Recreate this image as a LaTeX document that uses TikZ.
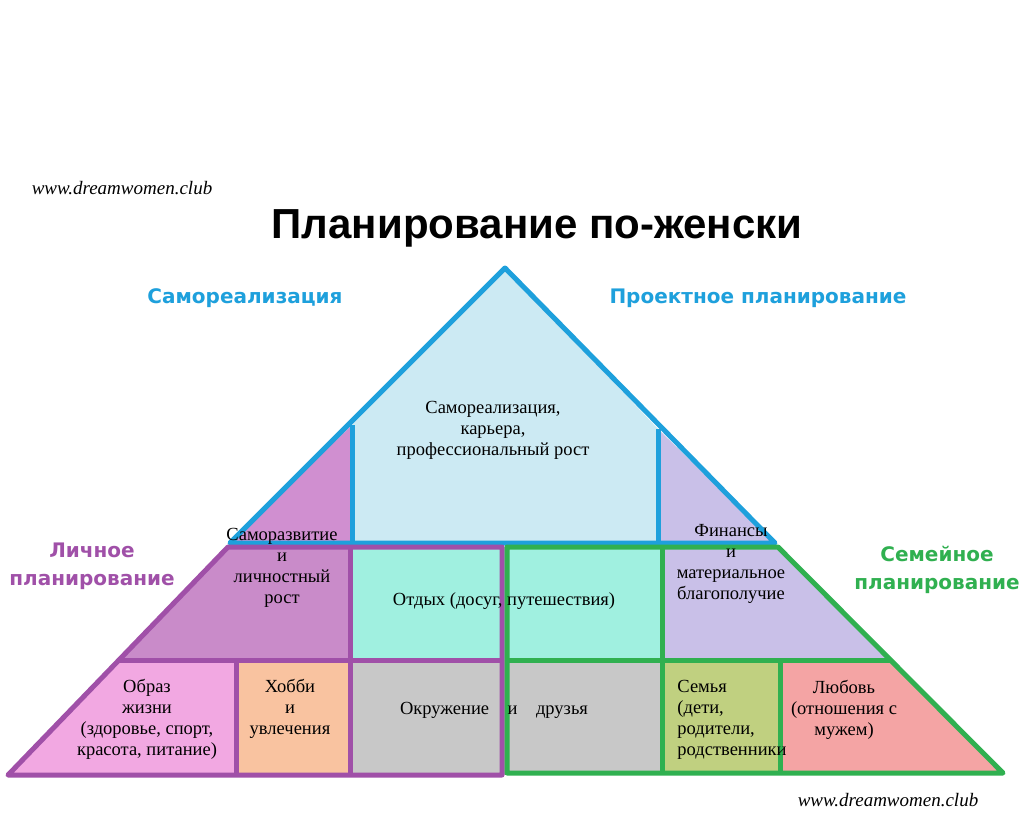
\documentclass[tikz,border=0pt]{standalone}
\usepackage{fontspec}
\setmainfont{Liberation Serif}
\newfontfamily\hsans{Liberation Sans}
\newfontfamily\dsans{DejaVu Sans}
\definecolor{blueC}{HTML}{1EA0DC}
\definecolor{purC}{HTML}{A050A8}
\definecolor{grnC}{HTML}{30B050}
\definecolor{fTop}{HTML}{CCEAF3}
\definecolor{fPurTop}{HTML}{D08FD0}
\definecolor{fLav}{HTML}{C9C0E8}
\definecolor{fPur}{HTML}{C98BC9}
\definecolor{fAqua}{HTML}{A0F0E0}
\definecolor{fPink}{HTML}{F2A8E2}
\definecolor{fPeach}{HTML}{F9C3A0}
\definecolor{fGray}{HTML}{C8C8C8}
\definecolor{fOlive}{HTML}{C0D080}
\definecolor{fRose}{HTML}{F4A4A4}
\begin{document}
\begin{tikzpicture}[x=1pt,y=-1pt,line join=round,
  bl/.style={draw=blueC,line width=5pt},
  pu/.style={draw=purC,line width=5pt},
  gr/.style={draw=grnC,line width=5pt},
  txt/.style={font=\fontsize{18.5}{21}\selectfont,align=center,inner sep=0pt},
  hd/.style={font=\dsans\bfseries\fontsize{20}{28}\selectfont,align=center,inner sep=0pt},
  wm/.style={font=\itshape\fontsize{19}{20}\selectfont,inner sep=0pt}]
\useasboundingbox (0,0) rectangle (1024,815);
\fill[white] (0,0) rectangle (1024,815);
\fill[fTop] (352,425) -- (505,268) -- (658,429) -- (658,543) -- (352,543) -- cycle;
\fill[fPurTop] (352,425) -- (352,543) -- (230,543) -- cycle;
\fill[fLav] (658,429) -- (775,543) -- (658,543) -- cycle;
\fill[fPur] (228,547) -- (350,547) -- (350,660) -- (119,660) -- cycle;
\fill[fAqua] (350,547) rectangle (662,660);
\fill[fLav] (662,547) -- (778,547) -- (890,660) -- (662,660) -- cycle;
\fill[fPink] (119,660) -- (236,660) -- (236,775) -- (8,775) -- cycle;
\fill[fPeach] (236,660) rectangle (350,775);
\fill[fGray] (350,660) rectangle (662,775);
\fill[fOlive] (662,660) rectangle (780,773);
\fill[fRose] (780,660) -- (890,660) -- (1003,773) -- (780,773) -- cycle;
\draw[bl] (230,543) -- (505,268) -- (775,543) -- cycle;
\draw[bl] (352,425) -- (352,543);
\draw[bl] (658,429) -- (658,543);
\draw[pu] (228,547) -- (502,547) -- (502,775) -- (8,775) -- cycle;
\draw[pu] (119,660) -- (502,660);
\draw[pu] (350,547) -- (350,775);
\draw[pu] (236,660) -- (236,775);
\draw[gr] (507,547) -- (778,547) -- (1003,773) -- (507,773) -- cycle;
\draw[gr] (507,660) -- (890,660);
\draw[gr] (662,547) -- (662,773);
\draw[gr] (780,660) -- (780,773);
\node[font=\hsans\bfseries\fontsize{42}{44}\selectfont,inner sep=0pt] (title) at (537,228) {Планирование по-женски};
\node[wm] (wm1) at (122,188) {www.dreamwomen.club};
\node[wm] (wm2) at (888,800) {www.dreamwomen.club};
\node[hd,text=blueC] (h1) at (245,298) {Самореализация};
\node[hd,text=blueC] (h2) at (758,298) {Проектное планирование};
\node[hd,text=purC] (h3) at (92,566) {Личное\\планирование};
\node[hd,text=grnC] (h4) at (937,570) {Семейное\\планирование};
\node[txt] (t1) at (493,430) {Самореализация,\\карьера,\\профессиональный рост};
\node[txt] (t2) at (282,568) {Саморазвитие\\и\\личностный\\рост};
\node[txt] (t3) at (731,564) {Финансы\\и\\материальное\\благополучие};
\node[txt] (t4) at (504,601) {Отдых (досуг, путешествия)};
\node[txt] (t5) at (147,719) {Образ\\жизни\\(здоровье, спорт,\\красота, питание)};
\node[txt] (t6) at (290,709) {Хобби\\и\\увлечения};
\node[txt] (t7) at (494,710) {Окружение\quad и\quad друзья};
\node[txt,align=left] (t8) at (732,720) {Семья\\(дети,\\родители,\\родственники};
\node[txt] (t9) at (844,710) {Любовь\\(отношения с\\мужем)};
\end{tikzpicture}
\end{document}
